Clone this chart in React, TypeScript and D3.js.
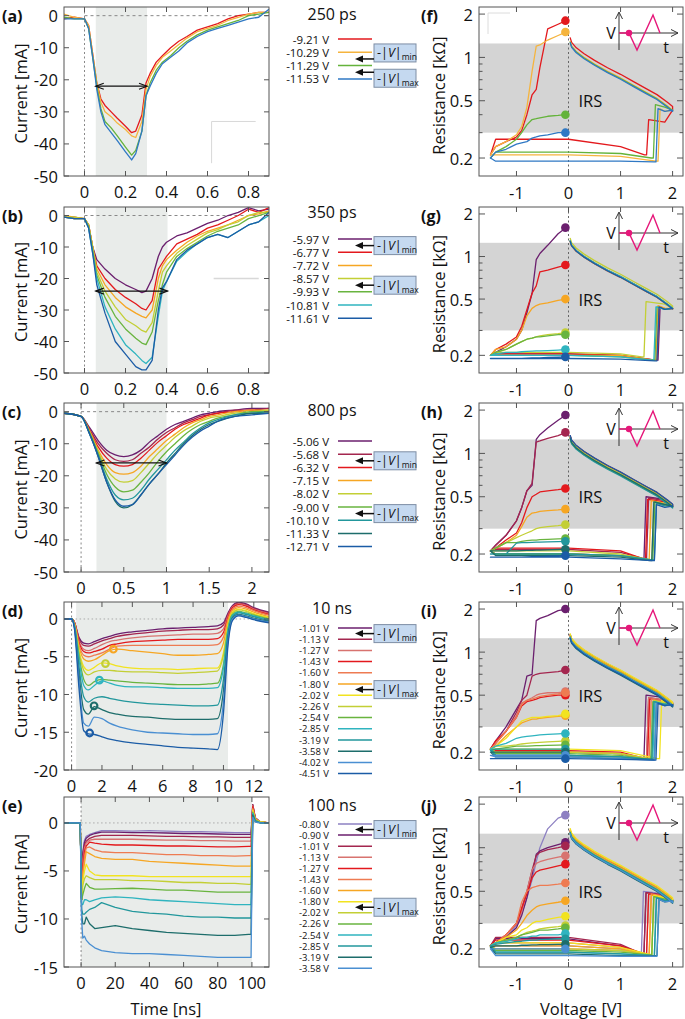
import React from 'react';
import * as d3 from 'd3';

const FONT = "'Open Sans', 'Noto Sans', 'DejaVu Sans', sans-serif";

const PURPLE = '#6b1f6e', CRIMSON = '#a4264f', SALMON = '#d8736f', RED = '#e3191d', ORSAL = '#ee7b52',
  ORANGE = '#f6a623', YELLOW = '#f2e31f', YGREEN = '#c3cf35', GREEN = '#69b43f', CYAN = '#2fb4bf',
  TEAL = '#22979c', DTEAL = '#1d6d6b', LBLUE = '#4a8fd2', BLUE = '#1b5ca6', LAVENDER = '#8d80c2';

// ================= (a) 250 ps =================
const aTitle = '250 ps';
const aLabels = ['-9.21 V', '-10.29 V', '-11.29 V', '-11.53 V'];
const aColors = [RED, '#f5b43e', '#64b33b', '#2f78c4'];
const aTime = [-0.1, -0.05, 0, 0.02, 0.04, 0.06, 0.08, 0.1, 0.13, 0.16, 0.2, 0.23, 0.25, 0.28, 0.3, 0.32, 0.35, 0.38, 0.42, 0.46, 0.5, 0.55, 0.6, 0.65, 0.7, 0.75, 0.8, 0.85, 0.9];
const aCurrent = [
  [-1, -0.5, -1, -3, -12, -21, -26, -28, -30, -32, -34.5, -36.5, -36, -31, -21, -18, -14.5, -12.5, -10, -8, -6.5, -4.5, -3.5, -2.5, -1, 0, 0.5, 1, 1],
  [0.5, -0.5, -1, -3, -12, -21, -27, -30, -31.5, -33.5, -35.5, -37.5, -38, -33, -23, -19, -15.5, -13, -11, -9, -7, -5, -4, -3, -1.5, -0.5, 0.5, 1, 1],
  [-0.5, -1, -1, -4, -13, -22, -29, -33, -35, -37.5, -41, -43.5, -42, -36, -25, -21, -17, -14.5, -12.5, -10, -8, -6, -4.5, -3.5, -2.5, -1.5, 0, 0.5, 1],
  [-1, -1, -1, -4, -13, -23, -30, -34, -36.5, -39, -42.5, -45, -43, -36, -25, -22, -18, -15, -13, -11, -8.5, -6.5, -5, -4, -3, -2, -1, -0.5, 2],
];

// ================= (b) 350 ps =================
const bTitle = '350 ps';
const bLabels = ['-5.97 V', '-6.77 V', '-7.72 V', '-8.57 V', '-9.93 V', '-10.81 V', '-11.61 V'];
const bColors = [PURPLE, RED, ORANGE, YGREEN, GREEN, CYAN, BLUE];
const bTime = [-0.1, -0.05, 0, 0.02, 0.04, 0.06, 0.1, 0.15, 0.2, 0.25, 0.28, 0.3, 0.33, 0.36, 0.38, 0.4, 0.45, 0.5, 0.55, 0.6, 0.65, 0.7, 0.75, 0.8, 0.85, 0.9];
const bCurrent = [
  [-0.5, -0.5, -1, -3, -10, -14, -17, -20, -22, -23.5, -24.5, -24, -20, -13, -10, -8.5, -6.5, -5.5, -4, -2.5, -1.5, 0, 1, 2.5, 1.5, 2],
  [-0.5, -1, -1, -3, -10, -16, -20, -23.5, -26, -28, -29.5, -30, -27, -17, -15, -13, -9, -7.5, -6, -4, -3, -1.5, 0, 2, 1, 2.5],
  [0, -0.5, -1, -3, -10, -17, -22, -26, -29, -31, -32, -32.5, -30, -20, -16, -14, -11, -8.5, -6.5, -5, -4, -3, -1.5, 0, 0.5, 1.5],
  [-0.5, -0.5, -1, -3, -10, -18, -24, -29, -33, -35, -36.5, -37, -34, -24, -18, -16, -12, -9.5, -7.5, -5.5, -4.5, -3, -2, 0, 1, 1],
  [-0.5, -1, -1, -3.5, -11, -19, -26, -32, -36, -39, -40.5, -41, -37, -27, -22, -18, -13, -10.5, -8.5, -6.5, -5, -4, -3, -1, 0, 1],
  [-0.5, -1, -1, -4, -12, -20, -29, -36, -41, -44, -46, -47, -45, -32, -24, -21, -14.5, -11.5, -9, -7, -6, -7, -5, -3, -2, 0],
  [-0.5, -1, -1, -4, -12, -22, -31, -40, -44, -48, -49, -49, -46, -30, -23, -21, -14, -11, -9, -7, -6, -7, -5, -3, -2, 1],
];

// ================= (c) 800 ps =================
const cTitle = '800 ps';
const cLabels = ['-5.06 V', '-5.68 V', '-6.32 V', '-7.15 V', '-8.02 V', '-9.00 V', '-10.10 V', '-11.33 V', '-12.71 V'];
const cColors = [PURPLE, CRIMSON, RED, ORANGE, YGREEN, GREEN, TEAL, DTEAL, BLUE];
const cTime = [-0.2, 0, 0.1, 0.2, 0.3, 0.4, 0.5, 0.6, 0.7, 0.8, 0.9, 1.0, 1.1, 1.2, 1.3, 1.4, 1.5, 1.6, 1.8, 2.0, 2.2];
const cCurrent = [
  [-0.5, -1.5, -5, -9, -12, -13.5, -14, -13.5, -12, -9.5, -7.5, -5.5, -4, -3, -2, -1, -0.5, 0, 0.5, 1, 1],
  [-0.5, -1.5, -5.5, -10, -13, -15, -15.5, -15, -13, -11, -8.5, -6.5, -5, -3.5, -2.5, -1.5, -1, -0.5, 0.5, 0.5, 1],
  [-0.5, -1.5, -6, -11, -14.5, -16.5, -17, -16.5, -14.5, -12, -9.5, -7.5, -5.5, -4, -3, -2, -1, -0.5, 0, 0.5, 0],
  [-0.5, -1.5, -6, -12, -16.5, -19, -19.5, -19, -17, -14, -11.5, -9, -7, -5, -3.5, -2.5, -1.5, -1, 0, 0.5, 0.5],
  [-0.5, -1.5, -6.5, -12.5, -18, -21, -22, -21.5, -19, -16, -13, -10.5, -8, -6, -4.5, -3, -2, -1.5, -0.5, 0, 0.5],
  [-0.5, -1.5, -6.5, -13, -19.5, -23.5, -25, -24.5, -22, -19, -15.5, -12.5, -10, -7.5, -5.5, -4, -3, -2, -1, 0, 0],
  [-0.5, -1.5, -7, -13.5, -21, -26, -27.5, -27, -24.5, -21, -18, -15, -12, -9.5, -7, -5, -3.5, -2.5, -1, -0.5, 0],
  [-0.5, -1.5, -7, -14, -22, -28, -30, -29, -26, -22.5, -19.5, -16, -13, -10, -7.5, -5.5, -4, -3, -1.5, -0.5, -0.5],
  [-0.5, -1.5, -7, -14, -22, -27.5, -29.5, -29, -26, -22.5, -19.5, -16.5, -13.5, -10.5, -8, -6, -4.5, -3, -1.5, -1, -0.5],
];

// ================= (d) 10 ns =================
const dTitle = '10 ns';
const dLabels = ['-1.01 V', '-1.13 V', '-1.27 V', '-1.43 V', '-1.60 V', '-1.80 V', '-2.02 V', '-2.26 V', '-2.54 V', '-2.85 V', '-3.19 V', '-3.58 V', '-4.02 V', '-4.51 V'];
const dColors = [PURPLE, CRIMSON, SALMON, RED, ORSAL, ORANGE, YELLOW, YGREEN, GREEN, CYAN, TEAL, DTEAL, LBLUE, BLUE];
const dTime = [-0.5, 0, 0.2, 0.5, 0.8, 1.1, 1.5, 2, 2.5, 3, 4, 5, 6, 7, 8, 9, 9.6, 10, 10.3, 10.6, 11, 11.5, 12, 13];
const dCurrent = [
  [0, 0, -0.5, -2.5, -3.2, -3.3, -3, -2.6, -2.3, -2, -1.7, -1.5, -1.3, -1.2, -1.1, -1, -0.9, -0.5, 0.8, 1.8, 2.2, 2, 1.5, 0.9],
  [0, 0, -0.5, -2.7, -3.5, -3.6, -3.3, -2.9, -2.6, -2.3, -2, -1.8, -1.6, -1.5, -1.4, -1.4, -1.3, -0.8, 0.6, 1.7, 2.1, 1.9, 1.4, 0.8],
  [0, 0, -0.5, -3, -4, -4.2, -3.9, -3.4, -3, -2.8, -2.5, -2.3, -2.2, -2.1, -2, -2, -1.9, -1.3, 0.4, 1.6, 2, 1.8, 1.3, 0.7],
  [0, 0, -0.5, -3.2, -4.3, -4.5, -4.3, -4, -3.5, -3.3, -3, -2.9, -2.8, -2.7, -2.7, -2.7, -2.6, -1.8, 0.2, 1.5, 1.9, 1.7, 1.2, 0.6],
  [0, 0, -0.6, -3.5, -4.8, -5, -4.8, -4.5, -4, -3.6, -3.5, -3.5, -3.5, -3.5, -3.5, -3.5, -3.4, -2.4, 0, 1.3, 1.7, 1.5, 1.1, 0.5],
  [0, 0, -0.7, -3.8, -5.3, -5.6, -5.4, -4.8, -4.2, -4, -4.2, -4.4, -4.6, -4.8, -4.8, -4.7, -4.6, -3.2, -0.3, 1.1, 1.5, 1.3, 0.9, 0.3],
  [0, 0, -0.8, -4.3, -6.3, -6.8, -6.4, -5.8, -5.9, -6.2, -6.5, -6.6, -6.6, -6.7, -6.6, -6.5, -6.5, -4.5, -0.8, 0.9, 1.3, 1.1, 0.7, 0.2],
  [0, 0, -0.8, -4.5, -6.8, -7.4, -7, -6.8, -6.8, -6.9, -7, -7, -7.1, -7.2, -7.1, -7, -6.9, -4.8, -1, 0.8, 1.2, 1, 0.6, 0.1],
  [0, 0, -0.9, -5, -8, -8.8, -8.3, -8, -8.1, -8.2, -8.4, -8.5, -8.6, -8.7, -8.7, -8.6, -8.5, -6, -1.3, 0.6, 1, 0.8, 0.5, 0],
  [0, 0, -1, -5.5, -8.8, -9.4, -8.8, -8.2, -8.5, -8.8, -9, -9, -9.1, -9.2, -9.2, -9.2, -9.1, -6.5, -1.5, 0.5, 0.9, 0.7, 0.4, -0.1],
  [0, 0, -1.1, -6.5, -10.3, -11, -10.5, -10.3, -10.5, -10.7, -11, -11.2, -11.3, -11.4, -11.5, -11.5, -11.4, -8, -2, 0.3, 0.8, 0.6, 0.3, -0.2],
  [0, 0, -1.2, -7.5, -12, -12.6, -11.6, -12, -12.4, -12.6, -12.9, -13, -13.2, -13.3, -13.3, -13.3, -13.2, -9.5, -2.5, 0.1, 0.6, 0.4, 0.1, -0.3],
  [0, 0, -1.3, -8.5, -13.8, -14.2, -13, -13.2, -13.8, -14.2, -14.7, -15, -15.1, -15.2, -15.3, -15.3, -15.2, -11, -3, 0, 0.5, 0.3, 0, -0.4],
  [0, 0, -1.5, -9.5, -14.8, -15.2, -15.3, -15.6, -15.9, -16.1, -16.4, -16.6, -16.8, -17, -17.1, -17.2, -17.3, -12.5, -3.5, -0.2, 0.4, 0.2, -0.1, -0.5],
];
const dMarkT = [2.75, 2.23, 1.83, 1.48, 1.19];
const dMarkI = [-4.0, -5.9, -8.1, -11.5, -15.1];
const dMarkColors = [ORANGE, YGREEN, CYAN, DTEAL, BLUE];

// ================= (e) 100 ns =================
const eTitle = '100 ns';
const eLabels = ['-0.80 V', '-0.90 V', '-1.01 V', '-1.13 V', '-1.27 V', '-1.43 V', '-1.60 V', '-1.80 V', '-2.02 V', '-2.26 V', '-2.54 V', '-2.85 V', '-3.19 V', '-3.58 V'];
const eColors = [LAVENDER, PURPLE, CRIMSON, SALMON, RED, ORSAL, ORANGE, YELLOW, YGREEN, GREEN, CYAN, TEAL, DTEAL, LBLUE];
const eTime = [-10, -0.5, 0.3, 1, 2, 3, 5, 8, 12, 20, 30, 40, 50, 60, 70, 80, 90, 98, 99.5, 100.5, 102, 105, 110];
const eCurrent = [
  [0, 0, -8, -3, -1.8, -1.4, -1.2, -1.0, -0.8, -0.8, -0.85, -0.8, -0.85, -0.9, -0.9, -0.95, -1.0, -1.0, -1.0, 1.8, 0.5, 0.1, 0],
  [0, 0, -8, -3.2, -2.0, -1.6, -1.3, -1.1, -0.95, -0.95, -1.0, -1.0, -1.05, -1.1, -1.1, -1.15, -1.2, -1.2, -1.2, 1.9, 0.5, 0.1, 0],
  [0, 0, -8, -3.5, -2.3, -1.9, -1.6, -1.4, -1.3, -1.3, -1.3, -1.35, -1.4, -1.4, -1.45, -1.45, -1.5, -1.5, -1.5, 1.9, 0.5, 0.1, 0],
  [0, 0, -8, -4, -2.6, -2.1, -1.8, -1.7, -1.7, -1.7, -1.7, -1.75, -1.8, -1.8, -1.85, -1.85, -1.9, -1.9, -1.9, 1.8, 0.5, 0.1, 0],
  [0, 0, -8, -4.5, -3.0, -2.4, -2.0, -2.1, -2.2, -2.3, -2.3, -2.35, -2.4, -2.4, -2.45, -2.5, -2.5, -2.45, -2.45, 1.7, 0.4, 0.1, 0],
  [0, 0, -8, -5, -3.5, -2.6, -2.5, -2.8, -3.0, -3.1, -3.1, -3.2, -3.3, -3.3, -3.4, -3.4, -3.45, -3.4, -3.4, 1.5, 0.4, 0.1, 0],
  [0, 0, -8, -5.5, -4.2, -3.0, -3.2, -3.5, -3.7, -3.8, -3.8, -4.0, -4.1, -4.2, -4.3, -4.4, -4.5, -4.5, -4.5, 1.4, 0.4, 0.1, 0],
  [0, 0, -8, -6, -5, -4.3, -5, -5.4, -5.5, -5.5, -5.5, -5.6, -5.6, -5.6, -5.6, -5.6, -5.6, -5.6, -5.6, 1.3, 0.3, 0.1, 0],
  [0, 0, -8, -6.5, -5.8, -5.5, -5.7, -5.9, -5.9, -5.9, -6.0, -6.0, -6.1, -6.2, -6.2, -6.3, -6.3, -6.4, -6.4, 1.2, 0.3, 0.1, 0],
  [0, 0, -8, -7.5, -6.8, -6.3, -6.7, -6.9, -6.9, -6.85, -6.8, -6.9, -7.0, -7.0, -7.1, -7.2, -7.2, -7.2, -7.2, 1.1, 0.3, 0, 0],
  [0, 0, -8.5, -8.5, -8.0, -8.0, -8.2, -8.0, -7.8, -7.7, -7.8, -8.0, -8.1, -8.2, -8.3, -8.4, -8.5, -8.5, -8.5, 1.0, 0.2, 0, 0],
  [0, 0, -9, -9.5, -9.5, -9.3, -9.0, -8.8, -8.3, -8.8, -9.2, -9.4, -9.5, -9.7, -9.8, -9.8, -9.9, -9.9, -9.9, 0.9, 0.2, 0, 0],
  [0, 0, -9.5, -10.5, -10.5, -9.8, -10.5, -11.0, -10.9, -10.7, -11.0, -11.2, -11.4, -11.5, -11.6, -11.7, -11.7, -11.6, -11.6, 0.8, 0.1, 0, 0],
  [0, 0, -10, -12, -11.8, -12.2, -12.6, -13.0, -13.3, -13.5, -13.6, -13.6, -13.7, -13.8, -13.9, -14.0, -14.0, -14.0, -14.0, 0.6, 0.1, 0, 0],
];

// ================= resistance loops (f)-(j) =================
const NEG_V = [-0.05, -0.2, -0.4, -0.55, -0.62, -0.7, -0.8, -0.9, -1.0, -1.2, -1.4, -1.5];
const UP_V = [2.0, 1.9, 1.7, 1.5, 1.25, 1.0, 0.75, 0.5, 0.3, 0.15, 0.06, 0.03];
const UP_R = [0.43, 0.46, 0.52, 0.57, 0.64, 0.72, 0.8, 0.9, 1.0, 1.1, 1.2, 1.3];

const fColors = aColors;
const fDot = [1.8, 1.5, 0.4, 0.3];
const fNeg = [
  [1.8, 1.7, 1.58, 0.85, 0.6, 0.55, 0.4, 0.31, 0.28, 0.26, 0.24, 0.21],
  [1.5, 1.42, 1.32, 1.22, 1.2, 0.8, 0.45, 0.33, 0.29, 0.26, 0.24, 0.21],
  [0.4, 0.395, 0.39, 0.38, 0.375, 0.37, 0.34, 0.3, 0.27, 0.24, 0.22, 0.2],
  [0.3, 0.3, 0.29, 0.285, 0.28, 0.275, 0.26, 0.255, 0.25, 0.23, 0.22, 0.2],
];
const fBot = [0.27, 0.21, 0.22, 0.19];
const fBot1 = [0.24, 0.205, 0.215, 0.19];
const fLow = [0.21, 0.19, 0.2, 0.188];
const fSet = [1.5, 1.72, 1.63, 1.68];
const fJump = [0.37, 0.44, 0.47, 0.44];
const fUpK = [1.06, 1.0, 0.99, 0.98];

const gColors = bColors;
const gDot = [1.6, 0.87, 0.5, 0.29, 0.28, 0.22, 0.195];
const gNeg = [
  [1.6, 1.45, 1.2, 1.05, 0.95, 0.55, 0.4, 0.3, 0.26, 0.23, 0.21, 0.2],
  [0.87, 0.84, 0.8, 0.78, 0.62, 0.55, 0.42, 0.32, 0.27, 0.24, 0.22, 0.2],
  [0.5, 0.49, 0.47, 0.46, 0.45, 0.43, 0.38, 0.3, 0.26, 0.23, 0.22, 0.2],
  [0.29, 0.285, 0.28, 0.275, 0.27, 0.265, 0.26, 0.25, 0.24, 0.22, 0.21, 0.2],
  [0.28, 0.28, 0.275, 0.27, 0.27, 0.265, 0.26, 0.25, 0.24, 0.22, 0.21, 0.2],
  [0.22, 0.218, 0.216, 0.215, 0.215, 0.214, 0.213, 0.212, 0.21, 0.21, 0.205, 0.2],
  [0.195, 0.194, 0.193, 0.192, 0.192, 0.192, 0.191, 0.19, 0.19, 0.19, 0.19, 0.19],
];
const gBot = [0.205, 0.205, 0.2, 0.21, 0.2, 0.2, 0.19];
const gBot1 = [0.2, 0.2, 0.2, 0.205, 0.195, 0.195, 0.188];
const gLow = [0.185, 0.185, 0.185, 0.195, 0.185, 0.185, 0.183];
const gSet = [1.72, 1.7, 1.68, 1.45, 1.66, 1.64, 1.7];
const gJump = [0.44, 0.44, 0.45, 0.48, 0.44, 0.44, 0.44];
const gUpK = [1.0, 0.99, 0.99, 1.04, 1.0, 1.0, 0.99];

const hColors = cColors;
const hDot = [1.85, 1.4, 0.57, 0.41, 0.32, 0.256, 0.245, 0.216, 0.195];
const hNeg = [
  [1.85, 1.7, 1.5, 1.35, 1.25, 0.6, 0.55, 0.42, 0.34, 0.27, 0.23, 0.21],
  [1.4, 1.33, 1.27, 1.22, 1.2, 0.62, 0.55, 0.42, 0.34, 0.27, 0.23, 0.21],
  [0.57, 0.56, 0.55, 0.54, 0.52, 0.5, 0.42, 0.33, 0.28, 0.25, 0.22, 0.21],
  [0.41, 0.405, 0.4, 0.395, 0.39, 0.385, 0.36, 0.31, 0.27, 0.24, 0.22, 0.21],
  [0.32, 0.315, 0.31, 0.305, 0.3, 0.29, 0.28, 0.27, 0.26, 0.24, 0.22, 0.21],
  [0.256, 0.255, 0.253, 0.252, 0.25, 0.25, 0.248, 0.245, 0.24, 0.24, 0.22, 0.21],
  [0.245, 0.244, 0.243, 0.242, 0.242, 0.241, 0.24, 0.24, 0.238, 0.2, 0.2, 0.2],
  [0.216, 0.215, 0.214, 0.213, 0.213, 0.212, 0.212, 0.211, 0.21, 0.21, 0.21, 0.21],
  [0.195, 0.194, 0.193, 0.192, 0.192, 0.192, 0.191, 0.19, 0.19, 0.19, 0.19, 0.19],
];
const hBot = [0.2, 0.215, 0.22, 0.2, 0.21, 0.2, 0.2, 0.195, 0.19];
const hBot1 = [0.195, 0.205, 0.21, 0.195, 0.2, 0.195, 0.195, 0.19, 0.185];
const hLow = [0.185, 0.185, 0.185, 0.183, 0.183, 0.182, 0.182, 0.18, 0.18];
const hSet = [1.45, 1.5, 1.48, 1.55, 1.6, 1.62, 1.65, 1.6, 1.65];
const hJump = [0.5, 0.49, 0.48, 0.47, 0.46, 0.46, 0.45, 0.46, 0.44];
const hUpK = [1.02, 1.03, 1.0, 1.01, 1.0, 0.98, 0.97, 0.99, 1.03];

const iColors = dColors;
const iDot = [2.0, 0.75, 0.53, 0.5, 0.52, 0.36, 0.37, 0.24, 0.225, 0.27, 0.21, 0.2, 0.19, 0.18];
const iNeg = [
  [2.0, 1.95, 1.8, 1.72, 1.66, 0.7, 0.68, 0.46, 0.4, 0.3, 0.24, 0.21],
  [0.75, 0.73, 0.72, 0.71, 0.7, 0.68, 0.5, 0.46, 0.38, 0.28, 0.23, 0.21],
  [0.53, 0.52, 0.52, 0.51, 0.5, 0.48, 0.46, 0.44, 0.36, 0.28, 0.23, 0.21],
  [0.5, 0.5, 0.49, 0.48, 0.47, 0.46, 0.45, 0.42, 0.35, 0.28, 0.24, 0.21],
  [0.52, 0.51, 0.5, 0.49, 0.48, 0.47, 0.46, 0.43, 0.35, 0.28, 0.23, 0.21],
  [0.36, 0.355, 0.35, 0.345, 0.34, 0.34, 0.33, 0.32, 0.3, 0.26, 0.22, 0.21],
  [0.37, 0.36, 0.355, 0.35, 0.35, 0.35, 0.34, 0.33, 0.3, 0.25, 0.22, 0.21],
  [0.24, 0.238, 0.236, 0.234, 0.233, 0.232, 0.23, 0.228, 0.225, 0.22, 0.22, 0.21],
  [0.225, 0.224, 0.223, 0.222, 0.222, 0.221, 0.22, 0.22, 0.22, 0.215, 0.21, 0.21],
  [0.27, 0.268, 0.266, 0.264, 0.262, 0.26, 0.258, 0.255, 0.25, 0.23, 0.22, 0.21],
  [0.21, 0.21, 0.21, 0.21, 0.21, 0.21, 0.21, 0.21, 0.21, 0.21, 0.21, 0.205],
  [0.2, 0.2, 0.2, 0.2, 0.2, 0.2, 0.2, 0.2, 0.2, 0.2, 0.2, 0.2],
  [0.19, 0.19, 0.19, 0.19, 0.19, 0.19, 0.19, 0.19, 0.19, 0.19, 0.19, 0.19],
  [0.18, 0.18, 0.18, 0.18, 0.18, 0.18, 0.18, 0.18, 0.18, 0.18, 0.18, 0.18],
];
const iBot = [0.19, 0.2, 0.2, 0.205, 0.2, 0.2, 0.21, 0.2, 0.195, 0.19, 0.19, 0.185, 0.185, 0.18];
const iBot1 = [0.185, 0.195, 0.195, 0.2, 0.195, 0.195, 0.205, 0.195, 0.19, 0.185, 0.185, 0.18, 0.18, 0.178];
const iLow = [0.18, 0.18, 0.18, 0.18, 0.18, 0.18, 0.18, 0.18, 0.178, 0.178, 0.178, 0.178, 0.176, 0.176];
const iSet = [1.45, 1.5, 1.5, 1.52, 1.55, 1.6, 1.75, 1.6, 1.58, 1.62, 1.6, 1.65, 1.65, 1.68];
const iJump = [0.5, 0.48, 0.48, 0.47, 0.47, 0.46, 0.46, 0.46, 0.45, 0.45, 0.45, 0.44, 0.44, 0.44];
const iUpK = [1.03, 1.02, 1.0, 1.01, 0.99, 1.02, 1.04, 1.0, 0.98, 0.97, 0.99, 0.96, 0.98, 0.97];

const jColors = eColors;
const jDot = [1.68, 1.09, 1.03, 0.88, 0.77, 0.57, 0.43, 0.336, 0.29, 0.28, 0.255, 0.235, 0.215, 0.2];
const jNeg = [
  [1.68, 1.6, 1.35, 1.0, 0.8, 0.6, 0.45, 0.35, 0.29, 0.24, 0.22, 0.21],
  [1.09, 1.05, 1.0, 0.95, 0.9, 0.65, 0.45, 0.34, 0.28, 0.24, 0.22, 0.21],
  [1.03, 1.0, 0.97, 0.93, 0.88, 0.7, 0.5, 0.38, 0.3, 0.25, 0.22, 0.21],
  [0.88, 0.86, 0.83, 0.8, 0.78, 0.7, 0.5, 0.36, 0.3, 0.25, 0.22, 0.21],
  [0.77, 0.75, 0.72, 0.7, 0.68, 0.62, 0.48, 0.38, 0.3, 0.25, 0.22, 0.21],
  [0.57, 0.56, 0.55, 0.55, 0.54, 0.53, 0.5, 0.42, 0.3, 0.25, 0.22, 0.21],
  [0.43, 0.42, 0.41, 0.4, 0.39, 0.37, 0.34, 0.3, 0.27, 0.24, 0.22, 0.21],
  [0.336, 0.33, 0.32, 0.31, 0.31, 0.3, 0.28, 0.27, 0.25, 0.24, 0.22, 0.21],
  [0.29, 0.285, 0.28, 0.275, 0.27, 0.265, 0.26, 0.25, 0.24, 0.23, 0.22, 0.21],
  [0.28, 0.275, 0.27, 0.27, 0.265, 0.26, 0.255, 0.25, 0.24, 0.23, 0.22, 0.21],
  [0.255, 0.25, 0.25, 0.25, 0.245, 0.245, 0.24, 0.24, 0.235, 0.225, 0.22, 0.21],
  [0.235, 0.235, 0.233, 0.232, 0.23, 0.23, 0.228, 0.226, 0.225, 0.22, 0.215, 0.21],
  [0.215, 0.215, 0.214, 0.214, 0.213, 0.213, 0.212, 0.212, 0.21, 0.21, 0.21, 0.205],
  [0.2, 0.2, 0.2, 0.2, 0.2, 0.2, 0.2, 0.2, 0.2, 0.2, 0.2, 0.2],
];
const jBot = [0.21, 0.235, 0.24, 0.22, 0.23, 0.2, 0.21, 0.22, 0.2, 0.195, 0.19, 0.19, 0.185, 0.18];
const jBot1 = [0.2, 0.21, 0.215, 0.205, 0.21, 0.195, 0.2, 0.205, 0.195, 0.19, 0.185, 0.185, 0.18, 0.178];
const jLow = [0.185, 0.185, 0.185, 0.185, 0.185, 0.183, 0.183, 0.183, 0.182, 0.182, 0.18, 0.18, 0.18, 0.178];
const jSet = [1.4, 1.45, 1.45, 1.5, 1.5, 1.55, 1.55, 1.6, 1.6, 1.6, 1.65, 1.65, 1.7, 1.7];
const jJump = [0.5, 0.49, 0.49, 0.48, 0.48, 0.48, 0.47, 0.47, 0.46, 0.46, 0.45, 0.45, 0.44, 0.44];
const jUpK = [1.0, 1.01, 1.02, 0.99, 1.0, 1.01, 1.03, 1.05, 1.0, 0.98, 0.97, 0.99, 0.96, 0.97];

// ================= layout =================
const W = 685, H = 1019;
const LX0 = 64, LX1 = 269, RX0 = 479, RX1 = 683;
const ROW_TOP = [7, 207, 403, 602, 797];
const ROW_BOT = [176, 373, 572, 770, 967];
const FRAME = '#555';

type TP = {
  label: string; row: number; xDomain: [number, number]; yDomain: [number, number];
  xTicks: number[]; yTicks: number[]; time: number[]; values: number[][]; colors: string[];
  shade: [number, number]; arrowY?: number; smooth?: boolean; dashedZero: boolean;
  marks?: { t: number[]; i: number[]; c: string[] };
};

function TimePanel({ p }: { p: TP }) {
  const top = ROW_TOP[p.row], bot = ROW_BOT[p.row];
  const x = d3.scaleLinear().domain(p.xDomain).range([LX0, LX1]);
  const y = d3.scaleLinear().domain(p.yDomain).range([bot, top]);
  const line = d3.line<[number, number]>().x(d => x(d[0])).y(d => y(d[1]))
    .curve(p.smooth ? d3.curveMonotoneX : d3.curveLinear);
  const cid = `clipL${p.row}`;
  const ax0 = x(p.shade[0]), ax1 = x(p.shade[1]);
  return (
    <g>
      <defs><clipPath id={cid}><rect x={LX0} y={top} width={LX1 - LX0} height={bot - top} /></clipPath></defs>
      <rect x={ax0} y={top} width={ax1 - ax0} height={bot - top} fill="#e9ecea" />
      <line x1={x(0)} x2={LX1} y1={y(0)} y2={y(0)} stroke={p.dashedZero ? '#888' : '#aaa'} strokeWidth={1}
        strokeDasharray={p.dashedZero ? '3,3' : '1.5,2.5'} />
      <line x1={x(0)} x2={x(0)} y1={top} y2={bot} stroke="#888" strokeWidth={1} strokeDasharray="2,2.5" />
      <g clipPath={`url(#${cid})`}>
        {p.values.map((vals, k) => (
          <path key={k} d={line(p.time.map((t, i) => [t, vals[i]] as [number, number])) || ''}
            fill="none" stroke={p.colors[k]} strokeWidth={1.3} strokeLinejoin="round" />
        ))}
      </g>
      {p.marks && p.marks.t.map((t, k) => (
        <circle key={k} cx={x(t)} cy={y(p.marks!.i[k])} r={3.3} fill="none" stroke={p.marks!.c[k]} strokeWidth={2.2} />
      ))}
      {p.arrowY !== undefined && (
        <g stroke="#111" strokeWidth={1.2} fill="none">
          <path d={`M${ax0},${y(p.arrowY)}H${ax1}`} />
          <path d={`M${ax0 + 8},${y(p.arrowY) - 3}L${ax0},${y(p.arrowY)}L${ax0 + 8},${y(p.arrowY) + 3}`} />
          <path d={`M${ax1 - 8},${y(p.arrowY) - 3}L${ax1},${y(p.arrowY)}L${ax1 - 8},${y(p.arrowY) + 3}`} />
        </g>
      )}
      <rect x={LX0} y={top} width={LX1 - LX0} height={bot - top} fill="none" stroke={FRAME} strokeWidth={1} />
      {p.xTicks.map(t => (
        <g key={'x' + t}>
          <line x1={x(t)} x2={x(t)} y1={bot} y2={bot - 5} stroke={FRAME} />
          <line x1={x(t)} x2={x(t)} y1={top} y2={top + 5} stroke={FRAME} />
          <text x={x(t)} y={bot + 15} textAnchor="middle" dominantBaseline="central" fontSize={16.5}>{String(t)}</text>
        </g>
      ))}
      {p.yTicks.map(v => (
        <g key={'y' + v}>
          <line x1={LX0} x2={LX0 + 5} y1={y(v)} y2={y(v)} stroke={FRAME} />
          <line x1={LX1} x2={LX1 - 5} y1={y(v)} y2={y(v)} stroke={FRAME} />
          <text x={LX0 - 6} y={y(v)} textAnchor="end" dominantBaseline="central" fontSize={16.5}>{String(v)}</text>
        </g>
      ))}
      <text x={2} y={top + 9} dominantBaseline="central" fontSize={16} fontWeight="bold">{p.label}</text>
      <text transform={`translate(20,${(top + bot) / 2 + 2}) rotate(-90)`} textAnchor="middle" dominantBaseline="central" fontSize={16.5}>Current [mA]</text>
    </g>
  );
}

type RP = {
  label: string; row: number; colors: string[]; dot: number[]; neg: number[][];
  bot: number[]; bot1: number[]; low: number[]; setV: number[]; jump: number[]; upK: number[];
};

function ResPanel({ p }: { p: RP }) {
  const top = ROW_TOP[p.row], bot = ROW_BOT[p.row];
  const x = d3.scaleLinear().domain([-1.72, 2.2]).range([RX0, RX1]);
  const y = d3.scaleLog().domain([0.15, 2.24]).range([bot, top]);
  const line = d3.line<[number, number]>().x(d => x(d[0])).y(d => y(d[1])).curve(d3.curveLinear);
  const cid = `clipR${p.row}`;
  const loops = p.neg.map((neg, k) => {
    const pts: [number, number][] = NEG_V.map((v, i) => [v, neg[i]] as [number, number]);
    pts.push([-1.4, p.bot[k]], [0, p.bot[k]], [1.0, p.bot1[k]], [p.setV[k] - 0.04, p.low[k]], [p.setV[k], p.low[k]],
      [p.setV[k] + 0.04, p.jump[k]], [1.85, p.jump[k] * 0.96], [2.0, 0.43]);
    UP_V.forEach((v, i) => pts.push([v, UP_R[i] * p.upK[k]]));
    return pts;
  });
  const minor = [0.3, 0.4, 0.6, 0.7, 0.8, 0.9];
  const major = [0.2, 0.5, 1, 2];
  const it = top;
  return (
    <g>
      <defs><clipPath id={cid}><rect x={RX0} y={top} width={RX1 - RX0} height={bot - top} /></clipPath></defs>
      <rect x={RX0} y={y(1.25)} width={RX1 - RX0} height={y(0.3) - y(1.25)} fill="#d4d4d4" />
      <line x1={x(0)} x2={x(0)} y1={top} y2={bot} stroke="#666" strokeDasharray="2,2.5" />
      <text x={x(0.42)} y={y(0.5)} textAnchor="middle" dominantBaseline="central" fontSize={16.5}>IRS</text>
      <g clipPath={`url(#${cid})`}>
        {loops.map((pts, k) => (
          <path key={k} d={line(pts) || ''} fill="none" stroke={p.colors[k]} strokeWidth={1.3} strokeLinejoin="round" />
        ))}
      </g>
      {p.dot.map((r, k) => (
        <circle key={k} cx={x(-0.06)} cy={y(r)} r={4.3} fill={p.colors[k]} />
      ))}
      <rect x={RX0} y={top} width={RX1 - RX0} height={bot - top} fill="none" stroke={FRAME} />
      {[-1, 0, 1, 2].map(t => (
        <g key={'x' + t}>
          <line x1={x(t)} x2={x(t)} y1={bot} y2={bot - 5} stroke={FRAME} />
          <line x1={x(t)} x2={x(t)} y1={top} y2={top + 5} stroke={FRAME} />
          <text x={x(t)} y={bot + 16} textAnchor="middle" dominantBaseline="central" fontSize={16.5}>{String(t)}</text>
        </g>
      ))}
      {major.map(v => (
        <g key={'y' + v}>
          <line x1={RX0} x2={RX0 + 6} y1={y(v)} y2={y(v)} stroke={FRAME} />
          <line x1={RX1} x2={RX1 - 6} y1={y(v)} y2={y(v)} stroke={FRAME} />
          <text x={RX0 - 6} y={y(v)} textAnchor="end" dominantBaseline="central" fontSize={16.5}>{String(v)}</text>
        </g>
      ))}
      {minor.map(v => (
        <g key={'m' + v}>
          <line x1={RX0} x2={RX0 + 3.5} y1={y(v)} y2={y(v)} stroke={FRAME} />
          <line x1={RX1} x2={RX1 - 3.5} y1={y(v)} y2={y(v)} stroke={FRAME} />
        </g>
      ))}
      <g>
        <line x1={619} x2={619} y1={it + 43} y2={it + 6} stroke="#333" strokeWidth={1} />
        <path d={`M615.5,${it + 12}L619,${it + 5}L622.5,${it + 12}`} fill="none" stroke="#333" />
        <line x1={619} x2={678} y1={it + 26} y2={it + 26} stroke="#333" strokeWidth={1} />
        <path d={`M671,${it + 22.5}L678,${it + 26}L671,${it + 29.5}`} fill="none" stroke="#333" />
        <text x={611} y={it + 26} textAnchor="middle" dominantBaseline="central" fontSize={16}>V</text>
        <text x={666} y={it + 40} textAnchor="middle" dominantBaseline="central" fontSize={16}>t</text>
        <path d={`M619,${it + 26}L629,${it + 26}L637,${it + 43}L653,${it + 8}L660,${it + 26}`} fill="none" stroke="#e6177a" strokeWidth={1.4} />
        <circle cx={629} cy={it + 26} r={3.2} fill="#e6177a" />
      </g>
      <text x={421} y={top + 9} dominantBaseline="central" fontSize={16} fontWeight="bold">{p.label}</text>
      <text transform={`translate(438,${(top + bot) / 2 + 4}) rotate(-90)`} textAnchor="middle" dominantBaseline="central" fontSize={16.5}>Resistance [kΩ]</text>
    </g>
  );
}

type LP = {
  title: string; titleY: number; row0: number; dy: number; labels: string[]; colors: string[];
  minRow: number; maxRow: number; boxShift: [number, number]; fs: number;
};

function Legend({ L }: { L: LP }) {
  const ay = (r: number) => L.row0 + r * L.dy;
  const boxes = [
    { a: ay(L.minRow), c: ay(L.minRow) + L.boxShift[0], sub: 'min' },
    { a: ay(L.maxRow), c: ay(L.maxRow) + L.boxShift[1], sub: 'max' },
  ];
  return (
    <g>
      <text x={332} y={L.titleY} textAnchor="middle" dominantBaseline="central" fontSize={16}>{L.title}</text>
      {L.labels.map((lab, i) => (
        <g key={i}>
          <text x={329} y={ay(i)} textAnchor="end" dominantBaseline="central" fontSize={L.fs}>{lab}</text>
          <line x1={338} x2={372} y1={ay(i)} y2={ay(i)} stroke={L.colors[i]} strokeWidth={1.5} />
        </g>
      ))}
      {boxes.map((b, k) => (
        <g key={k}>
          <rect x={374} y={b.c - 9} width={42} height={18} fill="#c5d9f0" stroke="#7e8ea5" strokeWidth={1} />
          <text x={377} y={b.c + 4.5} fontSize={12.5}>-|<tspan fontStyle="italic">V</tspan>|<tspan fontSize={8.5} dy={3}>{b.sub}</tspan></text>
          <line x1={374} x2={361} y1={b.a} y2={b.a} stroke="#111" strokeWidth={1.5} />
          <path d={`M355,${b.a}L363,${b.a - 3.5}L363,${b.a + 3.5}Z`} fill="#111" />
        </g>
      ))}
    </g>
  );
}

const timePanels: TP[] = [
  { label: '(a)', row: 0, xDomain: [-0.1, 0.9], yDomain: [-50, 2.7], xTicks: [0, 0.2, 0.4, 0.6, 0.8], yTicks: [0, -10, -20, -30, -40, -50], time: aTime, values: aCurrent, colors: aColors, shade: [0.055, 0.305], arrowY: -22, dashedZero: true },
  { label: '(b)', row: 1, xDomain: [-0.1, 0.9], yDomain: [-50, 2.7], xTicks: [0, 0.2, 0.4, 0.6, 0.8], yTicks: [0, -10, -20, -30, -40, -50], time: bTime, values: bCurrent, colors: bColors, shade: [0.055, 0.405], arrowY: -24, dashedZero: true },
  { label: '(c)', row: 2, xDomain: [-0.2, 2.2], yDomain: [-50, 2.7], xTicks: [0, 0.5, 1, 1.5, 2], yTicks: [0, -10, -20, -30, -40, -50], time: cTime, values: cCurrent, colors: cColors, shade: [0.18, 1.0], arrowY: -16, dashedZero: true, smooth: true },
  { label: '(d)', row: 3, xDomain: [-0.5, 13], yDomain: [-20, 2.25], xTicks: [0, 2, 4, 6, 8, 10, 12], yTicks: [0, -5, -10, -15, -20], time: dTime, values: dCurrent, colors: dColors, shade: [0.3, 10.3], dashedZero: false, smooth: true, marks: { t: dMarkT, i: dMarkI, c: dMarkColors } },
  { label: '(e)', row: 4, xDomain: [-10, 110], yDomain: [-15, 2.7], xTicks: [0, 20, 40, 60, 80, 100], yTicks: [0, -5, -10, -15], time: eTime, values: eCurrent, colors: eColors, shade: [0, 100], dashedZero: false },
];

const resPanels: RP[] = [
  { label: '(f)', row: 0, colors: fColors, dot: fDot, neg: fNeg, bot: fBot, bot1: fBot1, low: fLow, setV: fSet, jump: fJump, upK: fUpK },
  { label: '(g)', row: 1, colors: gColors, dot: gDot, neg: gNeg, bot: gBot, bot1: gBot1, low: gLow, setV: gSet, jump: gJump, upK: gUpK },
  { label: '(h)', row: 2, colors: hColors, dot: hDot, neg: hNeg, bot: hBot, bot1: hBot1, low: hLow, setV: hSet, jump: hJump, upK: hUpK },
  { label: '(i)', row: 3, colors: iColors, dot: iDot, neg: iNeg, bot: iBot, bot1: iBot1, low: iLow, setV: iSet, jump: iJump, upK: iUpK },
  { label: '(j)', row: 4, colors: jColors, dot: jDot, neg: jNeg, bot: jBot, bot1: jBot1, low: jLow, setV: jSet, jump: jJump, upK: jUpK },
];

const legends: LP[] = [
  { title: aTitle, titleY: 14, row0: 39, dy: 13.3, labels: aLabels, colors: aColors, minRow: 1.5, maxRow: 2.5, boxShift: [-6, 6], fs: 11.5 },
  { title: bTitle, titleY: 212, row0: 239, dy: 13.2, labels: bLabels, colors: bColors, minRow: 0.5, maxRow: 3.5, boxShift: [0, 0], fs: 11.5 },
  { title: cTitle, titleY: 410, row0: 441, dy: 13.2, labels: cLabels, colors: cColors, minRow: 1.5, maxRow: 5.5, boxShift: [0, 0], fs: 11.5 },
  { title: dTitle, titleY: 608, row0: 628, dy: 11.2, labels: dLabels, colors: dColors, minRow: 0.5, maxRow: 5.5, boxShift: [0, 0], fs: 9.5 },
  { title: eTitle, titleY: 805, row0: 824, dy: 11.1, labels: eLabels, colors: eColors, minRow: 0.5, maxRow: 7.5, boxShift: [0, 0], fs: 9.5 },
];

export default function App() {
  const xa = d3.scaleLinear().domain([-0.1, 0.9]).range([LX0, LX1]);
  const ya = d3.scaleLinear().domain([-50, 2.7]).range([ROW_BOT[0], ROW_TOP[0]]);
  const yb = d3.scaleLinear().domain([-50, 2.7]).range([ROW_BOT[1], ROW_TOP[1]]);
  return (
    <svg width={W} height={H} style={{ position: 'absolute', left: 0, top: 0, background: '#fff' }}
      fontFamily={FONT} fill="#111">
      <rect x={0} y={0} width={W} height={H} fill="#fff" />
      <path d={`M${xa(0.62)},${ya(-46)}V${ya(-33)}H${xa(0.835)}`} fill="none" stroke="#d8d8d8" />
      <path d={`M${xa(0.63)},${yb(-20)}H${xa(0.85)}`} fill="none" stroke="#d8d8d8" strokeWidth={1.5} />
      <path d={`M488,34V13H510`} fill="none" stroke="#dcdcdc" />
      {timePanels.map(p => <TimePanel key={p.label} p={p} />)}
      {resPanels.map(p => <ResPanel key={p.label} p={p} />)}
      {legends.map((L, i) => <Legend key={i} L={L} />)}
      <text x={166} y={1008} textAnchor="middle" dominantBaseline="central" fontSize={16.5}>Time [ns]</text>
      <text x={581} y={1008} textAnchor="middle" dominantBaseline="central" fontSize={16.5}>Voltage [V]</text>
    </svg>
  );
}
